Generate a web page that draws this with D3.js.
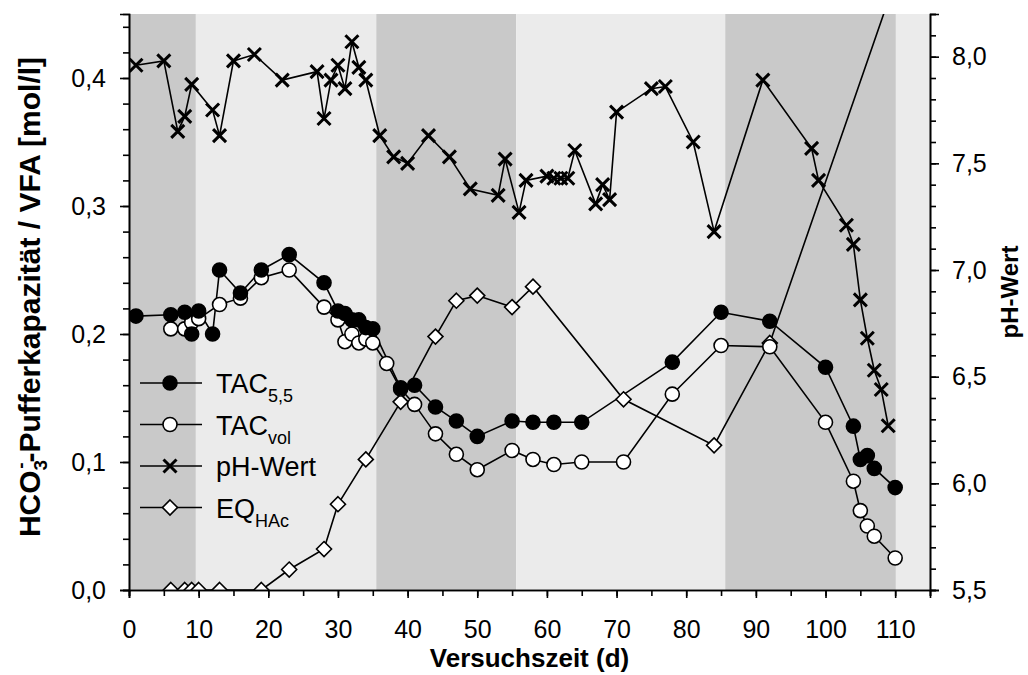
<!DOCTYPE html>
<html>
<head>
<meta charset="utf-8">
<script src="https://cdn.jsdelivr.net/npm/d3@7"></script>
<style>
  body { margin: 0; background: #fff; }
  svg text { font-family: "Liberation Sans", Arial, sans-serif; fill: #000; }
</style>
</head>
<body>
<svg id="chart" width="1028" height="675"></svg>
<script>
// phases shaded in the background (start day, end day, shade)
const phaseStart = [0, 9.6, 35.5, 55.6, 85.6, 110.1];
const phaseEnd = [9.6, 35.5, 55.6, 85.6, 110.1, 115];
const phaseDark = [true, false, true, false, true, false];

// TAC 5,5 (filled circles)
const tacDays = [1, 6, 8, 9, 10, 12, 13, 16, 19, 23, 28, 30, 31, 32, 33, 34, 35, 39, 41, 44, 47, 50, 55, 58, 61, 65, 78, 85, 92, 100, 104, 105, 106, 107, 110];
const tacVals = [0.214, 0.215, 0.217, 0.200, 0.218, 0.200, 0.250, 0.232, 0.250, 0.262, 0.240, 0.218, 0.216, 0.211, 0.211, 0.205, 0.204, 0.158, 0.160, 0.143, 0.132, 0.120, 0.132, 0.131, 0.131, 0.131, 0.178, 0.217, 0.210, 0.174, 0.128, 0.102, 0.105, 0.095, 0.080];

// TAC vol (open circles)
const volDays = [6, 8, 9, 10, 13, 16, 19, 23, 28, 30, 31, 32, 33, 34, 35, 37, 39, 41, 44, 47, 50, 55, 58, 61, 65, 71, 78, 85, 92, 100, 104, 105, 106, 107, 110];
const volVals = [0.204, 0.204, 0.209, 0.212, 0.223, 0.228, 0.244, 0.250, 0.221, 0.211, 0.194, 0.200, 0.193, 0.196, 0.193, 0.177, 0.157, 0.145, 0.122, 0.106, 0.094, 0.109, 0.102, 0.098, 0.100, 0.100, 0.153, 0.191, 0.190, 0.131, 0.085, 0.062, 0.050, 0.042, 0.025];

// EQ HAc (diamonds)
const eqDays = [6, 8, 9, 10, 13, 19, 23, 28, 30, 34, 39, 44, 47, 50, 55, 58, 71, 84, 92, 110];
const eqVals = [0, 0, 0, 0, 0, 0, 0.016, 0.032, 0.067, 0.102, 0.147, 0.198, 0.226, 0.230, 0.221, 0.237, 0.149, 0.113, 0.193, 0.476];

// pH-Wert (crosses, right axis)
const phDays = [1, 5, 7, 8, 9, 12, 13, 15, 18, 22, 27, 28, 29, 30, 31, 32, 33, 34, 36, 38, 40, 43, 46, 49, 53, 54, 56, 57, 60, 61, 62, 63, 64, 67, 68, 69, 70, 75, 77, 81, 84, 91, 98, 99, 103, 104, 105, 106, 107, 108, 109];
const phVals = [7.96, 7.98, 7.65, 7.72, 7.87, 7.75, 7.63, 7.98, 8.01, 7.89, 7.93, 7.71, 7.89, 7.96, 7.85, 8.07, 7.95, 7.89, 7.63, 7.53, 7.50, 7.63, 7.53, 7.38, 7.35, 7.52, 7.27, 7.42, 7.44, 7.43, 7.43, 7.43, 7.56, 7.31, 7.40, 7.33, 7.74, 7.85, 7.86, 7.60, 7.18, 7.89, 7.57, 7.42, 7.21, 7.12, 6.86, 6.68, 6.53, 6.44, 6.27];

const xMajor = d3.range(0, 111, 10);
const xMinor = d3.range(0, 116, 5);
const leftMajor = [0, 0.1, 0.2, 0.3, 0.4];
const leftMinor = d3.range(0, 0.441, 0.02);
const rightMajor = [5.5, 6.0, 6.5, 7.0, 7.5, 8.0];
const rightMinor = d3.range(5.5, 8.21, 0.1);

const legendNames = [["TAC", "5,5"], ["TAC", "vol"], ["pH-Wert", ""], ["EQ", "HAc"]];
const legendMarks = ["filled", "open", "cross", "diamond"];

const svg = d3.select("#chart");
const plot = { left: 129, right: 930, top: 14, bottom: 590 };

const x = d3.scaleLinear().domain([0, 115]).range([plot.left, plot.right]);
const yL = d3.scaleLinear().domain([0, 0.45]).range([plot.bottom, plot.top]);
const yR = d3.scaleLinear().domain([5.5, 8.2]).range([plot.bottom, plot.top]);

const comma = d => d3.format(".1f")(d).replace(".", ",");

// background bands
svg.append("g").selectAll("rect")
  .data(phaseStart.map((s, i) => ({ s, e: phaseEnd[i], dark: phaseDark[i] })))
  .join("rect")
  .attr("x", d => x(d.s))
  .attr("y", plot.top)
  .attr("width", d => x(d.e) - x(d.s))
  .attr("height", plot.bottom - plot.top)
  .attr("fill", d => d.dark ? "#c9c9c9" : "#ebebeb");

svg.append("clipPath").attr("id", "clip")
  .append("rect")
  .attr("x", plot.left).attr("y", plot.top)
  .attr("width", plot.right - plot.left).attr("height", plot.bottom - plot.top);

const g = svg.append("g").attr("clip-path", "url(#clip)");

function drawLine(days, vals, yScale) {
  const pts = days.map((d, i) => [x(d), yScale(vals[i])]);
  g.append("path")
    .attr("d", d3.line()(pts))
    .attr("fill", "none")
    .attr("stroke", "#000")
    .attr("stroke-width", 1.6);
  return pts;
}

function circle(sel, filled) {
  sel.append("circle")
    .attr("r", 7)
    .attr("fill", filled ? "#000" : "#fff")
    .attr("stroke", "#000")
    .attr("stroke-width", 1.6);
}
function diamond(sel) {
  sel.append("path")
    .attr("d", "M0,-7.5L7.5,0L0,7.5L-7.5,0Z")
    .attr("fill", "#fff")
    .attr("stroke", "#000")
    .attr("stroke-width", 1.6);
}
function cross(sel) {
  sel.append("path")
    .attr("d", "M-6.5,-6.5L6.5,6.5M-6.5,6.5L6.5,-6.5")
    .attr("stroke", "#000")
    .attr("stroke-width", 3);
}

function drawMarks(pts, fn) {
  g.append("g").selectAll("g")
    .data(pts)
    .join("g")
    .attr("transform", d => `translate(${d[0]},${d[1]})`)
    .each(function () { fn(d3.select(this)); });
}

const eqPts = drawLine(eqDays, eqVals, yL);
const volPts = drawLine(volDays, volVals, yL);
const tacPts = drawLine(tacDays, tacVals, yL);
const phPts = drawLine(phDays, phVals, yR);

drawMarks(eqPts, diamond);
drawMarks(volPts, s => circle(s, false));
drawMarks(tacPts, s => circle(s, true));
drawMarks(phPts, cross);

// axes
const fontSize = 25;
function styleAxis(a) {
  a.select(".domain").attr("stroke", "#000").attr("stroke-width", 1.6);
  a.selectAll(".tick line").attr("stroke", "#000").attr("stroke-width", 1.6);
  a.selectAll("text").attr("font-size", fontSize).attr("font-family", "Liberation Sans, Arial, sans-serif");
}

const xMinAx = svg.append("g").attr("transform", `translate(0,${plot.bottom})`)
  .call(d3.axisBottom(x).tickValues(xMinor).tickSize(6).tickFormat(""));
styleAxis(xMinAx);
const xAx = svg.append("g").attr("transform", `translate(0,${plot.bottom})`)
  .call(d3.axisBottom(x).tickValues(xMajor).tickSize(8).tickPadding(22).tickFormat(d3.format("d")));
styleAxis(xAx);

const lMinAx = svg.append("g").attr("transform", `translate(${plot.left},0)`)
  .call(d3.axisLeft(yL).tickValues(leftMinor).tickSize(6).tickFormat(""));
styleAxis(lMinAx);
const lAx = svg.append("g").attr("transform", `translate(${plot.left},0)`)
  .call(d3.axisLeft(yL).tickValues(leftMajor).tickSize(9).tickPadding(14).tickFormat(comma));
styleAxis(lAx);

const rMinAx = svg.append("g").attr("transform", `translate(${plot.right},0)`)
  .call(d3.axisRight(yR).tickValues(rightMinor).tickSize(6).tickFormat(""));
styleAxis(rMinAx);
const rAx = svg.append("g").attr("transform", `translate(${plot.right},0)`)
  .call(d3.axisRight(yR).tickValues(rightMajor).tickSize(9).tickPadding(13).tickFormat(comma));
styleAxis(rAx);

// axis titles
svg.append("text")
  .attr("x", (plot.left + plot.right) / 2)
  .attr("y", 667)
  .attr("text-anchor", "middle")
  .attr("font-size", 26)
  .attr("font-weight", "bold")
  .text("Versuchszeit (d)");

const yt = svg.append("text")
  .attr("transform", `translate(40,297) rotate(-90)`)
  .attr("text-anchor", "middle")
  .attr("font-size", 30)
  .attr("font-weight", "bold");
yt.append("tspan").text("HCO");
yt.append("tspan").attr("font-size", 19).attr("dy", 7).text("3");
yt.append("tspan").attr("font-size", 19).attr("dx", -9).attr("dy", -20).text("-");
yt.append("tspan").attr("dy", 13).text("-Pufferkapazität / VFA [mol/l]");

svg.append("text")
  .attr("transform", `translate(1018,292) rotate(-90)`)
  .attr("text-anchor", "middle")
  .attr("font-size", 24)
  .attr("font-weight", "bold")
  .text("pH-Wert");

// legend
const legY0 = 383, legStep = 41.5;
const leg = svg.append("g");
legendNames.forEach((nm, i) => {
  const yy = legY0 + i * legStep;
  const row = leg.append("g").attr("transform", `translate(0,${yy})`);
  row.append("line").attr("x1", 140).attr("x2", 202).attr("stroke", "#000").attr("stroke-width", 1.6);
  const m = row.append("g").attr("transform", "translate(170,0)");
  if (legendMarks[i] === "filled") circle(m, true);
  else if (legendMarks[i] === "open") circle(m, false);
  else if (legendMarks[i] === "cross") cross(m);
  else diamond(m);
  const t = row.append("text").attr("x", 216).attr("y", 10).attr("font-size", 27);
  t.append("tspan").text(nm[0]);
  if (nm[1]) t.append("tspan").attr("font-size", 18).attr("dy", 9).text(nm[1]);
});
</script>
</body>
</html>
